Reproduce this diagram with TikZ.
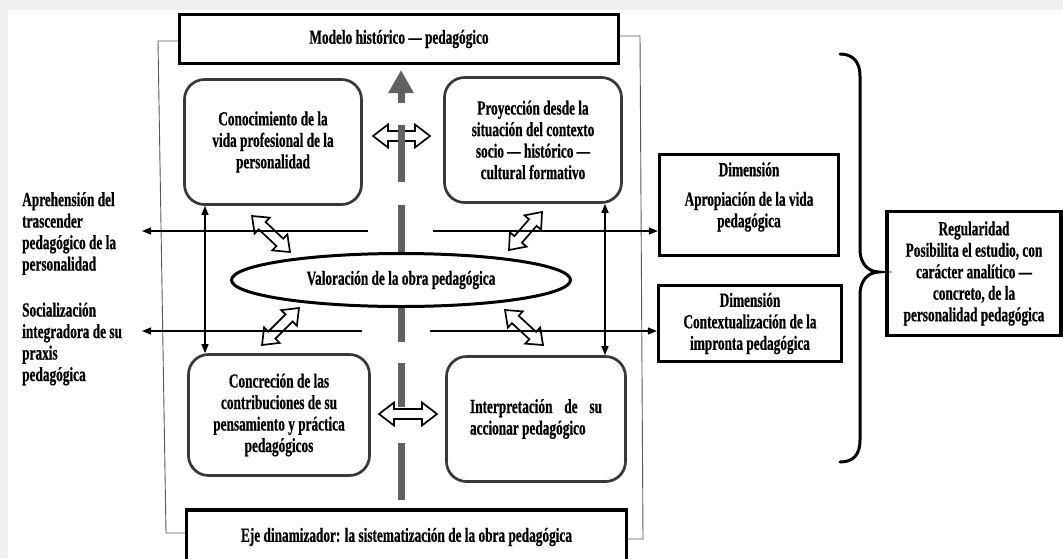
\documentclass[tikz,border=0pt]{standalone}
\usepackage{fontspec}
\setmainfont{Liberation Serif}[FakeStretch=0.665,FakeBold=0.6]
\usetikzlibrary{calc,arrows.meta,shapes.geometric}
\newcommand{\hollowarr}[5]{%
\draw[hollow] (#1) -- ($(#1)!#3!(#2)!#4!90:(#2)$) -- ($(#1)!#3!(#2)!#5!90:(#2)$) -- ($(#2)!#3!(#1)!#5!-90:(#1)$) -- ($(#2)!#3!(#1)!#4!-90:(#1)$) -- (#2) -- ($(#2)!#3!(#1)!#4!90:(#1)$) -- ($(#2)!#3!(#1)!#5!90:(#1)$) -- ($(#1)!#3!(#2)!#5!-90:(#2)$) -- ($(#1)!#3!(#2)!#4!-90:(#2)$) -- cycle;}
\begin{document}
\begin{tikzpicture}[x=1pt,y=-1pt,
  txt/.style={font=\bfseries\fontsize{20}{21.5}\selectfont, align=center, inner sep=0pt},
  sqbox/.style={draw=black, line width=3.2pt, inner sep=0pt},
  rbox/.style={draw=black!78, line width=2.7pt, rounded corners=20pt, inner sep=0pt},
  frame/.style={draw=black!65, line width=0.9pt},
  thinarr/.style={line width=1.2pt, -{Triangle[length=9pt,width=7pt]}},
  dblarr/.style={line width=1.2pt, {Triangle[length=9pt,width=7pt]}-{Triangle[length=9pt,width=7pt]}},
  axis/.style={line width=7pt, draw=black!62},
  hollow/.style={draw=black, line width=1.7pt, fill=white, line join=miter},
]
\fill[black!6] (0,0) rectangle (1063,10);
\fill[black!6] (0,0) rectangle (8,558);
\useasboundingbox (0,0) rectangle (1063,558);

% boxes
\node[sqbox, txt, minimum width=439pt, minimum height=49pt] (modelo) at (399,39) {Modelo histórico — pedagógico};
\node[sqbox, txt, minimum width=440pt, minimum height=54pt] (eje) at (406.5,537) {Eje dinamizador: la sistematización de la obra pedagógica};

\node[rbox, txt, minimum width=177pt, minimum height=125pt] (tl) at (273,142) {Conocimiento de la\\vida profesional de la\\personalidad};
\node[rbox, txt, minimum width=177pt, minimum height=125pt] (tr) at (533,140) {Proyección desde la\\situación del contexto\\socio — histórico —\\cultural formativo};
\node[rbox, txt, minimum width=181pt, minimum height=121pt] (bl) at (279,415) {Concreción de las\\contribuciones de su\\pensamiento y práctica\\pedagógicos};
\node[rbox, txt, align=left, minimum width=179pt, minimum height=125pt] (br) at (536,419) {\makebox[132pt][s]{Interpretación de su}\\accionar pedagógico};

% frame lines
\draw[frame] (modelo.west |- 0,41) -- (158,41) -- (166,533) -- (eje.west |- 0,533);
\draw[frame] (modelo.east |- 0,36) -- (640,36) -- (643,539) -- (eje.east |- 0,539);

% axis
\coordinate (axtop) at (401,70);
\draw[axis] (401,205) -- (401,252);
\draw[axis] (401,307) -- (401,342);
\draw[axis] (401,363) -- (401,407);
\draw[axis] (401,443) -- (401,500);
\draw[axis, -{Triangle[length=23pt,width=24pt]}] (401,103) -- (axtop);

% hollow arrows
\coordinate (h1a) at (373,136); \coordinate (h1b) at (430,136);
\coordinate (h2a) at (379,414); \coordinate (h2b) at (437,414);
\coordinate (d1a) at (252,216); \coordinate (d1b) at (290,252);
\coordinate (d2a) at (262,345); \coordinate (d2b) at (299,308);
\coordinate (d3a) at (542,212); \coordinate (d3b) at (509,250);
\coordinate (d4a) at (505,310); \coordinate (d4b) at (543,345);
\hollowarr{h1a}{h1b}{15pt}{11.5pt}{5pt}
\draw[axis] (401,125) -- (401,182);
\hollowarr{h2a}{h2b}{15pt}{11.5pt}{5pt}
\hollowarr{d1a}{d1b}{14pt}{11pt}{5pt}
\hollowarr{d2a}{d2b}{14pt}{11pt}{5pt}
\hollowarr{d3a}{d3b}{14pt}{11pt}{5pt}
\hollowarr{d4a}{d4b}{14pt}{11pt}{5pt}

% ellipse
\node[ellipse, draw=black, line width=3pt, fill=white, minimum width=339pt, minimum height=53pt, inner sep=0pt, txt] (val) at (401,280) {Valoración de la obra pedagógica};

% right boxes
\node[sqbox, minimum width=179pt, minimum height=101pt] (apro) at (749,205) {};
\node[txt] (aprot) at (749,197) {Dimensión\\[8pt]Apropiación de la vida\\pedagógica};
\node[sqbox, txt, minimum width=183pt, minimum height=76pt] (ctx) at (750,323.5) {Dimensión\\Contextualización de la\\impronta pedagógica};
\node[sqbox, txt, minimum width=174pt, minimum height=124pt] (reg) at (974,273.5) {Regularidad\\Posibilita el estudio, con\\carácter analítico —\\concreto, de la\\personalidad pedagógica};

% left labels
\node[txt, align=left, anchor=west] (lab1) at (22,233.5) {Aprehensión del\\trascender\\pedagógico de la\\personalidad};
\node[txt, align=left, anchor=west] (lab2) at (22,344) {Socialización\\integradora de su\\praxis\\pedagógica};

% thin arrows
\coordinate (s1) at (368,231); \coordinate (l1) at (142,231);
\coordinate (s2) at (362,331); \coordinate (l2) at (142,331);
\coordinate (r1) at (433,231); \coordinate (r2) at (430,331);
\draw[thinarr] (s1) -- (l1);
\draw[thinarr] (s2) -- (l2);
\draw[thinarr] (r1) -- (r1 -| apro.west);
\draw[thinarr] (r2) -- (r2 -| ctx.west);
\coordinate (lv) at (205,0); \coordinate (rv) at (605,0);
\draw[dblarr] (tl.south -| lv) -- (bl.north -| lv);
\draw[dblarr] (tr.south -| rv) -- (br.north -| rv);

% brace
\coordinate (bracetip) at (879,272);
\draw[line width=3pt, line cap=round] (840,54) .. controls (853,54) and (860,62) .. (860,76) -- (860,250) .. controls (860,263) and (868,272) .. (bracetip) .. controls (868,272) and (860,281) .. (860,294) -- (860,440) .. controls (860,455) and (853,462) .. (840,462);
\end{tikzpicture}
\end{document}
